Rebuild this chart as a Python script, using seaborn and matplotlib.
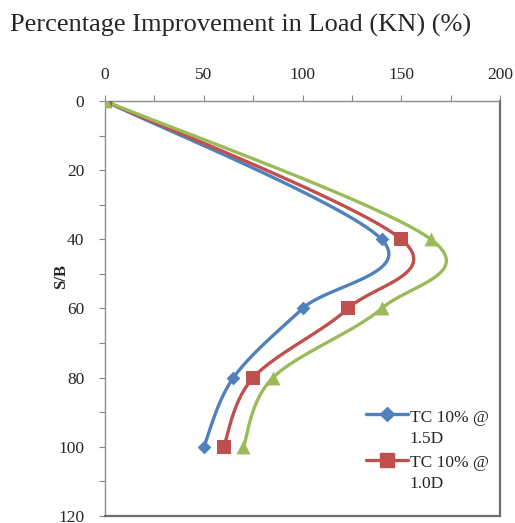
import numpy as np
import pandas as pd
import matplotlib
matplotlib.use("Agg")
import matplotlib.pyplot as plt
from matplotlib.lines import Line2D
from matplotlib.legend_handler import HandlerLine2D
from matplotlib.ticker import MultipleLocator
import seaborn as sns

# values
sb = [0, 40, 60, 80, 100]
load_15d = [0, 140, 100, 65, 50]
load_10d = [0, 150, 123, 75, 60]
load_third = [0, 165, 140, 85, 70]

series_names = ["TC 10% @\n1.5D", "TC 10% @\n1.0D", "TC 10% @\n0.5D"]
colors = ["#4F81BD", "#C0504D", "#9BBB59"]
markers = ["D", "s", "^"]
msizes = [7, 10, 10]


def smooth(xs, ys, n=30):
    # Excel-style smoothed line (Catmull-Rom through the points)
    p = np.column_stack([xs, ys]).astype(float)
    p = np.vstack([p[0], p, p[-1]])
    out = []
    for i in range(1, len(p) - 2):
        p0, p1, p2, p3 = p[i - 1], p[i], p[i + 1], p[i + 2]
        for t in np.linspace(0, 1, n, endpoint=False):
            t2, t3 = t * t, t * t * t
            pt = 0.5 * ((2 * p1) + (-p0 + p2) * t +
                        (2 * p0 - 5 * p1 + 4 * p2 - p3) * t2 +
                        (-p0 + 3 * p1 - 3 * p2 + p3) * t3)
            out.append(pt)
    out.append(p[-2])
    out = np.array(out)
    return out[:, 0], out[:, 1]


class TopLineHandler(HandlerLine2D):
    # put the legend handle next to the first text line, like Excel does
    def create_artists(self, legend, orig_handle, xdescent, ydescent,
                       width, height, fontsize, trans):
        arts = super().create_artists(legend, orig_handle, xdescent, ydescent,
                                      width, height, fontsize, trans)
        for a in arts:
            a.set_ydata(np.asarray(a.get_ydata(), dtype=float) + 0.8 * fontsize)
        return arts


sns.set_style("white")
plt.rcParams['font.family'] = ['Liberation Serif', 'DejaVu Serif']

fig = plt.figure(figsize=(5.15, 5.23), dpi=100)
ax = fig.add_axes([0.204, 0.0134, 0.767, 0.7935])

for name, vals, c, m, ms in zip(series_names, [load_15d, load_10d, load_third],
                                colors, markers, msizes):
    cx, cy = smooth(vals, sb)
    curve = pd.DataFrame({"load": cx, "sb": cy})
    sns.lineplot(data=curve, x="load", y="sb", sort=False, color=c,
                 linewidth=2.4, ax=ax, estimator=None)
    pts = pd.DataFrame({"load": vals, "sb": sb})
    sns.scatterplot(data=pts, x="load", y="sb", color=c, marker=m, s=ms ** 2,
                    edgecolor=c, linewidth=0, ax=ax, zorder=5)

ax.set_xlim(0, 200)
ax.set_ylim(120, 0)
ax.xaxis.set_major_locator(MultipleLocator(50))
ax.xaxis.set_minor_locator(MultipleLocator(25))
ax.yaxis.set_major_locator(MultipleLocator(20))
ax.yaxis.set_minor_locator(MultipleLocator(10))
ax.xaxis.tick_top()
ax.tick_params(axis="both", which="both", direction="out", length=4,
               width=0.8, color="#888888", labelsize=12.5)
ax.tick_params(axis="x", which="both", top=True, bottom=False, pad=9)
ax.tick_params(axis="y", which="both", left=True, right=False, pad=11)
ax.set_xlabel("")
ax.set_ylabel("S/B", fontsize=12, fontweight="bold")
ax.yaxis.set_label_coords(-0.091, 0.576)

for side in ["left", "top"]:
    ax.spines[side].set_color("#8c8c8c")
    ax.spines[side].set_linewidth(1.0)
for side in ["right", "bottom"]:
    ax.spines[side].set_color("#6e6e6e")
    ax.spines[side].set_linewidth(1.6)

handles = [Line2D([0], [0], color=c, marker=m, markersize=ms, linewidth=2.4)
           for c, m, ms in zip(colors[:2], markers[:2], msizes[:2])]
leg = ax.legend(handles, series_names[:2], loc="lower right",
                bbox_to_anchor=(1.01, 0.02), frameon=False, fontsize=12.5,
                handlelength=2.4, handletextpad=0.1, labelspacing=0.5,
                handler_map={Line2D: TopLineHandler()})
for t in leg.get_texts():
    t.set_linespacing(1.4)

fig.text(0.02, 0.939, "Percentage Improvement in Load (KN) (%)",
         fontsize=19, ha="left", va="baseline")

fig.savefig("out.png", dpi=100)
